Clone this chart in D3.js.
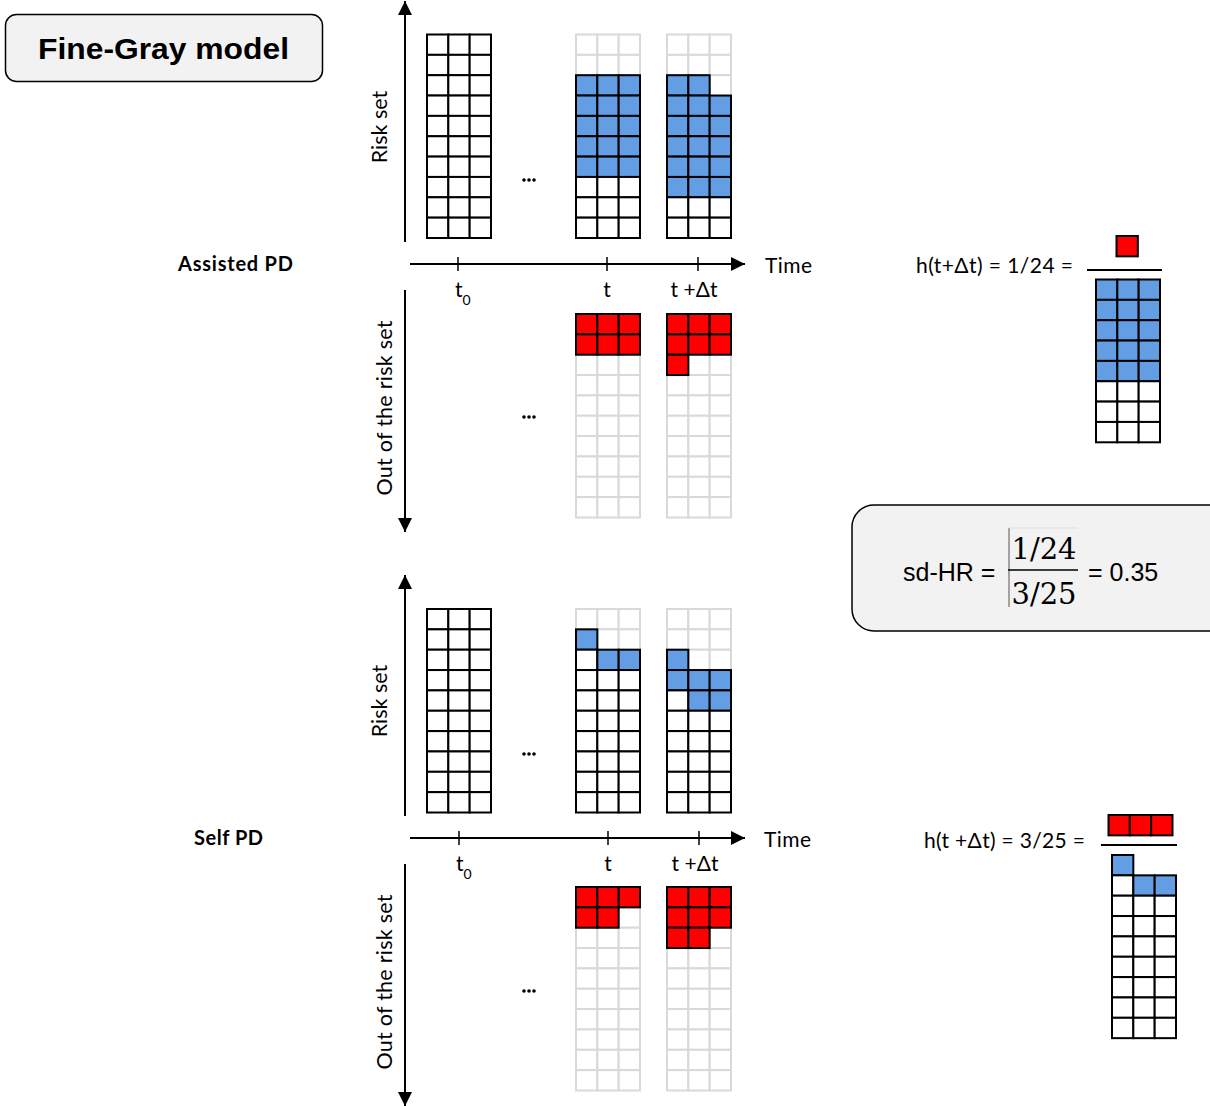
<!DOCTYPE html>
<html><head><meta charset="utf-8">
<script src="https://cdn.jsdelivr.net/npm/d3@7"></script>
<style>
html,body{margin:0;padding:0;background:#fff;}
svg{display:block;}
</style></head>
<body>
<svg id="c" width="1210" height="1106"></svg>
<script>
// ---------- DATA ----------
// cell codes: w = in risk set (white), b = blue, r = red (event), g = empty slot (light gray), . = nothing
const timePoints = ["t0", "t", "t+Δt"];
const tickLabels = ["t", "t", "t +Δt"];
const panels = ["Assisted PD", "Self PD"];
const assistedRisk = {
  "t0":   ["www","www","www","www","www","www","www","www","www","www"],
  "t":    ["ggg","ggg","bbb","bbb","bbb","bbb","bbb","www","www","www"],
  "t+Δt": ["ggg","ggg","bbg","bbb","bbb","bbb","bbb","bbb","www","www"]
};
const assistedOut = {
  "t":    ["rrr","rrr","ggg","ggg","ggg","ggg","ggg","ggg","ggg","ggg"],
  "t+Δt": ["rrr","rrr","rgg","ggg","ggg","ggg","ggg","ggg","ggg","ggg"]
};
const selfRisk = {
  "t0":   ["www","www","www","www","www","www","www","www","www","www"],
  "t":    ["ggg","bgg","wbb","www","www","www","www","www","www","www"],
  "t+Δt": ["ggg","ggg","bgg","bbb","wbb","www","www","www","www","www"]
};
const selfOut = {
  "t":    ["rrr","rrg","ggg","ggg","ggg","ggg","ggg","ggg","ggg","ggg"],
  "t+Δt": ["rrr","rrr","rrg","ggg","ggg","ggg","ggg","ggg","ggg","ggg"]
};
const assistedNum = ["r"];
const assistedDen = ["bbb","bbb","bbb","bbb","bbb","www","www","www"];
const selfNum = ["rrr"];
const selfDen = ["b..","wbb","www","www","www","www","www","www","www"];
const hazardLabels = ["h(t+Δt) = 1/24 =", "h(t +Δt) = 3/25 ="];
const sdHR = {num: "1/24", den: "3/25", value: "0.35"};

// ---------- DRAW ----------
const svg = d3.select("#c");
const fills = {w: "#ffffff", b: "#639ee5", r: "#ff0000", g: "#ffffff"};
const CW = 64/3, CH = 20.35;
const lab = "Lato, 'Open Sans', sans-serif";

const xTime = d3.scaleOrdinal().domain(timePoints).range([458, 607, 698]);

function drawGrid(rows, x0, y0) {
  const nCols = rows[0].length;
  const xs = d3.scaleBand().domain(d3.range(nCols)).range([x0, x0 + CW * nCols]);
  const ys = d3.scaleBand().domain(d3.range(rows.length)).range([y0, y0 + CH * rows.length]);
  const cells = [];
  rows.forEach((r, i) => r.split("").forEach((c, j) => { if (c !== ".") cells.push({i, j, c}); }));
  cells.sort((a, b) => (a.c === "g" ? 0 : 1) - (b.c === "g" ? 0 : 1));
  const g = svg.append("g");
  g.selectAll("rect").data(cells).join("rect")
    .attr("x", d => xs(d.j)).attr("y", d => ys(d.i))
    .attr("width", xs.bandwidth()).attr("height", ys.bandwidth())
    .attr("fill", d => fills[d.c])
    .attr("stroke", d => d.c === "g" ? "#d9d9d9" : "#000")
    .attr("stroke-width", 2);
}

const defs = svg.append("defs");
defs.append("marker").attr("id", "ah").attr("viewBox", "0 0 10 10")
  .attr("refX", 10).attr("refY", 5).attr("markerWidth", 7).attr("markerHeight", 7)
  .attr("markerUnits", "strokeWidth").attr("orient", "auto")
  .append("path").attr("d", "M0,0 L10,5 L0,10 Z").attr("fill", "#000");

function arrowLine(x1, y1, x2, y2) {
  svg.append("line").attr("x1", x1).attr("y1", y1).attr("x2", x2).attr("y2", y2)
    .attr("stroke", "#000").attr("stroke-width", 2).attr("marker-end", "url(#ah)");
}

// title box
svg.append("rect").attr("x", 5.5).attr("y", 14.5).attr("width", 317).attr("height", 67)
  .attr("rx", 11).attr("fill", "#f2f2f2").attr("stroke", "#000").attr("stroke-width", 1.5);
svg.append("text").attr("x", 38).attr("y", 59)
  .attr("font-family", "'Liberation Sans', Arimo, Arial, sans-serif").attr("font-weight", "bold")
  .attr("font-size", 30).attr("textLength", 251).attr("lengthAdjust", "spacingAndGlyphs")
  .text("Fine-Gray model");

function panel(p) {
  const off = p.off;
  arrowLine(405, off + 242, 405, off + 1);
  arrowLine(405, off + 290, 405, off + 532);
  const ya = off + 264 + p.ady;
  arrowLine(410, ya, 745, ya);
  svg.append("g").selectAll("line").data(timePoints).join("line")
    .attr("x1", d => xTime(d) + p.tdx).attr("x2", d => xTime(d) + p.tdx)
    .attr("y1", ya - 7).attr("y2", ya + 7).attr("stroke", "#000").attr("stroke-width", 1.5);
  svg.append("text").attr("x", p.timeX).attr("y", ya + 9).attr("font-family", lab)
    .attr("font-size", 21).attr("textLength", 47).text("Time");
  const tl = svg.append("g").attr("font-family", lab).attr("font-size", 21);
  tl.append("text").attr("x", xTime("t0") + p.tdx - 3).attr("y", ya + 33).text(tickLabels[0])
    .append("tspan").attr("dy", 8).attr("font-size", 14).text("0");
  tl.append("text").attr("x", xTime("t") + p.tdx).attr("y", ya + 33).attr("text-anchor", "middle").text(tickLabels[1]);
  tl.append("text").attr("x", xTime("t+Δt") + p.tdx - 4).attr("y", ya + 33).attr("text-anchor", "middle").text(tickLabels[2]);
  svg.append("text").attr("x", p.labX).attr("y", ya + 7)
    .attr("font-family", lab).attr("font-weight", "bold").attr("font-size", 20)
    .attr("textLength", p.labW).text(p.name);
  svg.append("text").attr("transform", `translate(387,${off + 127}) rotate(-90)`)
    .attr("text-anchor", "middle").attr("font-family", lab).attr("font-size", 21.5).text("Risk set");
  svg.append("text").attr("transform", `translate(392,${off + 408}) rotate(-90)`)
    .attr("text-anchor", "middle").attr("font-family", lab).attr("font-size", 21.5)
    .attr("textLength", 175).text("Out of the risk set");
  [off + 180, off + 417].forEach(y => {
    svg.append("g").selectAll("circle").data([0, 1, 2]).join("circle")
      .attr("cx", d => 524 + d * 5).attr("cy", y).attr("r", 1.8).attr("fill", "#000");
  });
  timePoints.forEach(tp => {
    drawGrid(p.risk[tp], xTime(tp) + 1 - 32, off + p.riskY);
    if (p.out[tp]) drawGrid(p.out[tp], xTime(tp) + 1 - 32, off + p.outY);
  });
}

panel({name: panels[0], off: 0, ady: 0, tdx: 0, timeX: 765, labX: 178, labW: 115,
  risk: assistedRisk, out: assistedOut, riskY: 34.5, outY: 314});
panel({name: panels[1], off: 574, ady: 0, tdx: 1, timeX: 764, labX: 194, labW: 69,
  risk: selfRisk, out: selfOut, riskY: 35, outY: 313});

// hazard fractions
const hz = svg.append("g").attr("font-family", lab).attr("font-size", 21);
hz.append("text").attr("x", 916).attr("y", 273).attr("textLength", 157).text(hazardLabels[0]);
drawGrid(assistedNum, 1116.5, 236);
svg.append("line").attr("x1", 1087).attr("x2", 1162).attr("y1", 270).attr("y2", 270).attr("stroke", "#000").attr("stroke-width", 2);
drawGrid(assistedDen, 1096, 279.5);

hz.append("text").attr("x", 924).attr("y", 848).attr("textLength", 161).text(hazardLabels[1]);
drawGrid(selfNum, 1108.5, 815);
svg.append("line").attr("x1", 1101).attr("x2", 1177).attr("y1", 845).attr("y2", 845).attr("stroke", "#000").attr("stroke-width", 2);
drawGrid(selfDen, 1112, 855);

// sd-HR box
svg.append("rect").attr("x", 852).attr("y", 505).attr("width", 380).attr("height", 126)
  .attr("rx", 22).attr("fill", "#f2f2f2").attr("stroke", "#000").attr("stroke-width", 1.5);
const sf = "'Liberation Sans', Arimo, Arial, sans-serif";
svg.append("text").attr("x", 903).attr("y", 581).attr("font-family", sf).attr("font-size", 25).text("sd-HR =");
svg.append("line").attr("x1", 1009).attr("x2", 1009).attr("y1", 528).attr("y2", 607).attr("stroke", "#555").attr("stroke-width", 1);
svg.append("line").attr("x1", 1009).attr("x2", 1078).attr("y1", 528).attr("y2", 528).attr("stroke", "#ddd").attr("stroke-width", 1);
svg.append("line").attr("x1", 1008).attr("x2", 1078).attr("y1", 570).attr("y2", 570).attr("stroke", "#000").attr("stroke-width", 1.5);
svg.append("text").attr("x", 1044).attr("y", 559).attr("text-anchor", "middle")
  .attr("font-family", "'DejaVu Serif', serif").attr("font-size", 29).text(sdHR.num);
svg.append("text").attr("x", 1044).attr("y", 604).attr("text-anchor", "middle")
  .attr("font-family", "'DejaVu Serif', serif").attr("font-size", 29).text(sdHR.den);
svg.append("text").attr("x", 1088).attr("y", 581).attr("font-family", sf).attr("font-size", 25).text("= " + sdHR.value);
</script>
</body></html>
